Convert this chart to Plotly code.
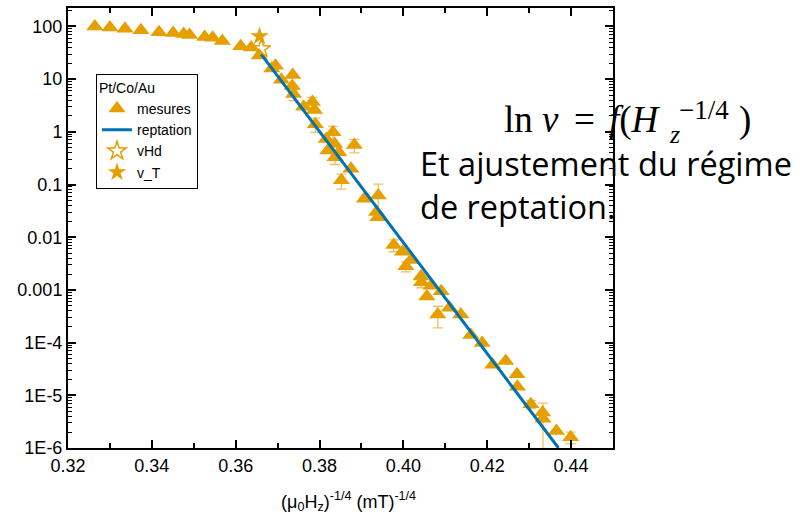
import plotly.graph_objects as go

# ---- data ----
x_mesures = [0.3264, 0.3300, 0.3336, 0.3374, 0.3417, 0.3451, 0.3476, 0.3490, 0.3526, 0.3545,
             0.3568, 0.3612, 0.3637, 0.3656, 0.3686, 0.3695, 0.3709, 0.3735, 0.3736, 0.3738,
             0.3762, 0.3783, 0.3788, 0.3790, 0.3816, 0.3820, 0.3832, 0.3836, 0.3837, 0.3846,
             0.3852, 0.3875, 0.3883, 0.3907, 0.3936, 0.3939, 0.3940, 0.3977, 0.3998, 0.4006,
             0.4018, 0.4042, 0.4043, 0.4056, 0.4066, 0.4082, 0.4090, 0.4110, 0.4137, 0.4161,
             0.4188, 0.4213, 0.4244, 0.4271, 0.4272, 0.4304, 0.4332, 0.4333, 0.4365, 0.4399]
v_mesures = [100, 95, 90, 85, 78, 75, 72, 69, 63, 61,
             53, 42, 40, 28, 16, 18, 9.7, 7.4, 12, 5.2,
             3.0, 3.7, 2.6, 1.4, 0.73, 0.44, 0.98, 0.59, 0.33, 0.41,
             0.12, 0.20, 0.56, 0.054, 0.030, 0.024, 0.062, 0.0071, 0.0053, 0.0028,
             0.0037, 0.0018, 0.0014, 0.00075, 0.0012, 0.00034, 0.00094, 0.00046, 0.00034, 0.00014,
             9.8e-5, 3.8e-5, 4.5e-5, 2.5e-5, 1.45e-5, 6.8e-6, 4.7e-6, 3.6e-6, 2.1e-6, 1.6e-6]
err_mesures = [0, 0, 0, 0, 0, 0, 0, 0, 0, 0,
               0, 0, 0, 0, 0, 0, 0, 0, 0, 1.3,
               0, 0.8, 0, 0.42, 0, 0, 0.29, 0, 0.09, 0,
               0.038, 0, 0.16, 0, 0, 0, 0.04, 0.0018, 0, 0.0006,
               0, 0, 0.0003, 0, 0, 0.00015, 0, 0, 0, 0,
               0, 0, 0, 0, 0, 1.2e-6, 0, 3.5e-6, 0, 0.4e-6]

x_reptation = [0.3661, 0.4370]
v_reptation = [29.4, 1e-6]

x_vHd = [0.3661]
v_vHd = [37.6]
x_vT = [0.3657]
v_vT = [65.3]

y_tickvals = [1e-6, 1e-5, 1e-4, 1e-3, 1e-2, 1e-1, 1, 10, 100]
y_ticktext = ["1E-6", "1E-5", "1E-4", "0.001", "0.01", "0.1", "1", "10", "100"]

ORANGE = "#E69F00"
BLUE = "#0072B2"
AXFONT = "Liberation Sans, Arial, sans-serif"
SERIF = "Liberation Serif, serif"
TXT = "Open Sans, sans-serif"

y_minor = [m * 10.0 ** e for e in range(-6, 3) for m in range(2, 10)]

fig = go.Figure()
fig.add_trace(go.Scatter(
    x=x_mesures, y=v_mesures, mode="markers", name="mesures",
    marker=dict(symbol="triangle-up", size=15, color=ORANGE),
    error_y=dict(type="data", array=err_mesures, symmetric=True,
                 color="#F0C060", thickness=1.3, width=5),
))
fig.add_trace(go.Scatter(
    x=x_reptation, y=v_reptation, mode="lines", name="reptation",
    line=dict(color=BLUE, width=3),
))
fig.add_trace(go.Scatter(
    x=x_vHd, y=v_vHd, mode="markers", name="vHd",
    marker=dict(symbol="star-open", size=14, color=ORANGE, line=dict(width=1.5)),
))
fig.add_trace(go.Scatter(
    x=x_vT, y=v_vT, mode="markers", name="v_T",
    marker=dict(symbol="star", size=14, color=ORANGE),
))


def px_x(p):
    return (p - 68) / 545.0


def px_y(p):
    return (447.5 - p) / 441.5


def note(text, x, y, size, family, xanchor="left"):
    return dict(text=text, xref="paper", yref="paper", x=px_x(x), y=px_y(y),
                xanchor=xanchor, yanchor="middle", showarrow=False,
                font=dict(size=size, family=family, color="black"))


fig.update_layout(
    width=808, height=512,
    margin=dict(l=68, r=195, t=6, b=64, pad=0),
    paper_bgcolor="white", plot_bgcolor="white",
    font=dict(family=AXFONT, color="black"),
    showlegend=True,
    legend=dict(
        x=px_x(96), y=px_y(72), xanchor="left", yanchor="top",
        bordercolor="black", borderwidth=1, bgcolor="white",
        font=dict(size=14, family=AXFONT),
        title=dict(text="Pt/Co/Au", font=dict(size=14, family=AXFONT)),
        tracegroupgap=0, itemwidth=30,
    ),
    xaxis=dict(
        range=[0.32, 0.45], tick0=0.32, dtick=0.02, tickformat=".2f",
        ticks="inside", ticklen=8, tickwidth=1.5, tickcolor="black",
        showline=True, linewidth=2, linecolor="black", mirror="ticks",
        showgrid=False, zeroline=False,
        tickfont=dict(size=18, family=AXFONT),
        minor=dict(dtick=0.01, ticks="inside", ticklen=5, tickwidth=1.5, tickcolor="black", showgrid=False),
    ),
    yaxis=dict(
        type="log", range=[-6, 2.35],
        tickvals=y_tickvals, ticktext=y_ticktext,
        ticks="inside", ticklen=8, tickwidth=1.5, tickcolor="black",
        showline=True, linewidth=2, linecolor="black", mirror="ticks",
        showgrid=False, zeroline=False,
        tickfont=dict(size=18, family=AXFONT),
        minor=dict(tickvals=y_minor, ticks="inside", ticklen=4, tickwidth=1, tickcolor="black", showgrid=False),
    ),
    annotations=[
        note("(μ<sub>0</sub>H<sub>z</sub>)<sup>-1/4</sup> (mT)<sup>-1/4</sup>", 348.5, 501, 18, AXFONT, "center"),
        note("ln <i>v</i>", 502, 118, 37, SERIF),
        note("=", 572, 118, 37, SERIF),
        note("<i>f</i>(<i>H</i>", 607, 118, 37, SERIF),
        note("−1/4", 677, 108, 27, SERIF),
        note("<i>z</i>", 667, 133, 26, SERIF),
        note(")", 737, 118, 37, SERIF),
        note("Et ajustement du régime", 418, 162, 32.5, TXT),
        note("de reptation.", 418, 205, 32.5, TXT),
    ],
)

fig.write_html("out.html", config={"displayModeBar": False},
               post_script="document.body.style.margin='0px';")
